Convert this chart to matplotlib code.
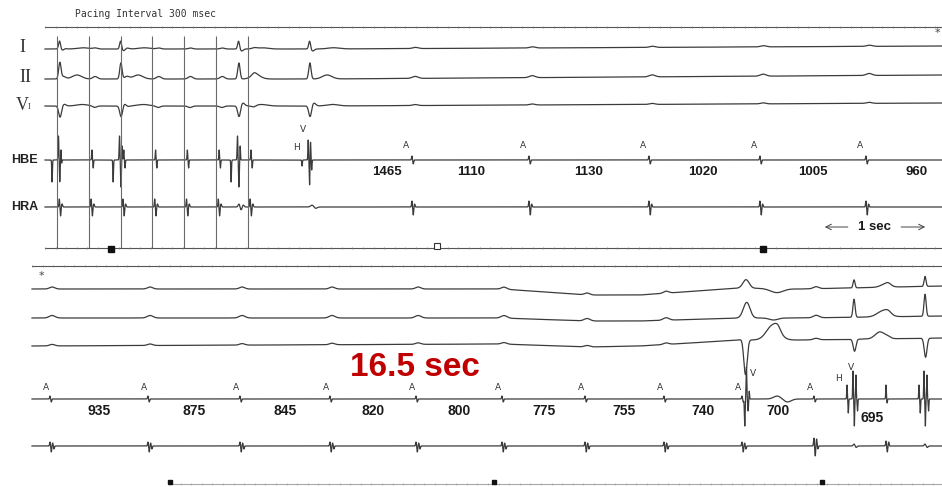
import numpy as np
import matplotlib.pyplot as plt

# ---- values read off the tracing, times in msec ----
# upper strip
stim_times = [113, 413, 713, 1013, 1313, 1613, 1913]   # pacing spikes (300 msec)
paced_v = [132, 708, 1821]                              # captured ventricular beats
his_top = 2425
v_top = 2491
a_top = [3462, 4566, 5698, 6745, 7745]
int_top = [1465, 1110, 1130, 1020, 1005, 960]
marks_top = [623, 3698, 6774]

# lower strip
a_bot = [170, 1094, 1962, 2811, 3623, 4434, 5217, 5962, 6698, 7377, 8057]
int_bot = [935, 875, 845, 820, 800, 775, 755, 740, 700, 695]
v_bot = [6736, 7755, 8425]
his_bot = [7689, 8368]
marks_bot = [1302, 4358, 7453]

# slow baseline wander of the lower surface leads
drift_t = [0, 4434, 5236, 5736, 6679, 7245, 8600]
drift_I = [0, 0, -6, -6, 1, 0, 3]
drift_II = [0, 0, -3, -3, 0, 0, 2]
drift_V1 = [0, 2, -1, 0, 6, 6, 8]

INK = '#3b3b3b'
PX_MS = 0.106   # paper speed, pixels per msec


def bump(t, c, w, a):
    return a * np.exp(-0.5 * ((t - c) / w) ** 2)


def timeline(ax, t0, t1, y, alpha=1.0):
    ax.plot([t0, t1], [y, y], color='#555555', lw=0.8, alpha=alpha)
    ticks = np.arange(t0, t1, 100)
    ax.plot(ticks, np.full(len(ticks), y), ls='none', marker='|', ms=1.4,
            mew=0.5, color='#777777', alpha=alpha)


fig = plt.figure(figsize=(9.42, 4.87), dpi=100)
top = fig.add_axes([0, 1 - 258 / 487, 1, 258 / 487])
top.set_xlim(-45 / PX_MS, (942 - 45) / PX_MS)
top.set_ylim(258, 0)
bot = fig.add_axes([0, 0, 1, 229 / 487])
bot.set_xlim(-32 / PX_MS, (942 - 32) / PX_MS)
bot.set_ylim(487, 258)
for ax in (top, bot):
    ax.axis('off')

# ================= upper strip =================
t = np.arange(0, 8470, 0.5)
beats = paced_v + [v_top]

sI = np.zeros_like(t)
sII = np.zeros_like(t)
sV1 = np.zeros_like(t)
for v in beats:
    sI += bump(t, v + 5, 9, 8) - bump(t, v + 35, 14, 2) + bump(t, v + 230, 55, 1.2)
    sII += bump(t, v + 8, 11, 16) + bump(t, v + 170, 45, 4)
    sV1 += -bump(t, v + 10, 13, 11) + bump(t, v + 45, 18, 3) + bump(t, v + 220, 55, 1.5)
for s in stim_times:
    sI += bump(t, s + 60, 20, 1)
    sII += bump(t, s + 60, 22, 2.5)
    sV1 += -bump(t, s + 55, 20, 1.5)
for a in a_top:
    sI += bump(t, a + 30, 25, 1.2)
    sII += bump(t, a + 30, 28, 2)
    sV1 += bump(t, a + 30, 25, 1)
sI += np.interp(t, [0, 2600, 8470], [0, 0, 3])
sII += np.interp(t, [0, 2600, 8470], [0, 0, 4])
sV1 += np.interp(t, [0, 2600, 8470], [0, 0, 3])

sHBE = np.zeros_like(t)
sHRA = np.zeros_like(t)
for s in stim_times:
    sHBE += bump(t, s + 30, 3, 10) - bump(t, s + 42, 3, 8)
    sHRA += bump(t, s + 22, 3.5, 8) - bump(t, s + 34, 3.5, 9) + bump(t, s + 48, 5, 3)
for v in paced_v:
    sHBE += (-bump(t, v - 65, 3, 22) + bump(t, v - 5, 3.5, 24)
             - bump(t, v + 8, 3.5, 27) + bump(t, v + 20, 3, 14))
sHBE += -bump(t, his_top, 3, 6)
sHBE += (bump(t, v_top - 8, 3, 20) - bump(t, v_top + 5, 3, 25)
         + bump(t, v_top + 14, 3, 18) - bump(t, v_top + 25, 3, 10))
sHRA += bump(t, v_top + 30, 15, 2) - bump(t, v_top + 60, 15, 1.5)
sHRA += bump(t, 1830, 8, 3) - bump(t, 1850, 8, 3) + bump(t, 1870, 8, 2)
for a in a_top:
    sHBE += bump(t, a, 4, 4) - bump(t, a + 12, 4, 4)
    sHRA += bump(t, a, 4, 6) - bump(t, a + 12, 4, 8) + bump(t, a + 25, 4, 3)

for base, sig in [(49, sI), (79, sII), (106, sV1), (160, sHBE), (207, sHRA)]:
    top.plot(t, base - sig, color=INK, lw=0.9)

top.vlines(stim_times, 36, 248, color='#6a6a6a', lw=0.8)
timeline(top, 0, 8470, 27)
timeline(top, 0, 8470, 248)
top.plot(marks_top[0], 249, 's', ms=5, color='#111111')
top.plot(marks_top[2], 249, 's', ms=5, color='#111111')
top.plot(marks_top[1], 246, 's', ms=4, mfc='white', mec='#333333', mew=0.8)

top.text(283, 14, 'Pacing Interval 300 msec', family='DejaVu Sans Mono',
         fontsize=7, color='#333333', va='center')
top.text(8415, 33, '*', fontsize=8, color='#444444', ha='center', va='center')
serif = dict(family='Liberation Serif', fontsize=13, color='#333333', va='center')
top.text(-217, 48, 'I', ha='center', **serif)
top.text(-189, 78, 'II', ha='center', **serif)
top.text(-215, 105, 'V', ha='center', **serif)
top.text(-150, 107, 'I', ha='center', family='Liberation Serif', fontsize=6,
         color='#333333', va='center')
lab = dict(family='Liberation Sans', fontweight='bold', fontsize=9,
           color='#222222', va='center', ha='center')
top.text(-190, 160, 'HBE', **lab)
top.text(-190, 207, 'HRA', **lab)

small = dict(family='DejaVu Sans', fontsize=6.5, color='#333333', ha='center', va='center')
top.text(v_top - 57, 130, 'V', **small)
top.text(his_top - 57, 148, 'H', **small)
for a in a_top:
    top.text(a - 60, 146, 'A', **small)

num = dict(family='Liberation Sans', fontweight='bold', fontsize=9.5,
           color='#1a1a1a', ha='center', va='center')
starts = [v_top] + a_top
for i, iv in enumerate(int_top):
    top.text(starts[i] + iv / 2, 172, str(iv), **num)

# 1 sec scale bar
sb0 = 7330
top.annotate('', xy=(sb0, 227), xytext=(sb0 + 270, 227),
             arrowprops=dict(arrowstyle='->', color='#444444', lw=0.7))
top.annotate('', xy=(sb0 + 1000, 227), xytext=(sb0 + 720, 227),
             arrowprops=dict(arrowstyle='->', color='#444444', lw=0.7))
top.text(sb0 + 495, 227, '1 sec', **num)

# ================= lower strip =================
t = np.arange(0, 8600, 0.5)

bI = np.zeros_like(t)
bII = np.zeros_like(t)
bV1 = np.zeros_like(t)
for a in a_bot:
    bI += bump(t, a + 20, 25, 2)
    bII += bump(t, a + 20, 28, 2.5)
    bV1 += bump(t, a + 20, 25, 1.5)
bI += np.interp(t, drift_t, drift_I)
bII += np.interp(t, drift_t, drift_II)
bV1 += np.interp(t, drift_t, drift_V1)

v1, v2, v3 = v_bot
bI += bump(t, v1 + 5, 28, 7) - bump(t, v1 + 290, 60, 4)
bII += bump(t, v1 + 10, 30, 14) - bump(t, v1 + 260, 40, 2)
bV1 += -bump(t, v1 - 5, 16, 36) + bump(t, v1 + 255, 60, 15) + bump(t, v1 + 300, 25, 4)
bI += bump(t, v2, 9, 8) + bump(t, v2 + 295, 45, 3)
bII += bump(t, v2, 10, 18) + bump(t, v2 + 275, 55, 6)
bV1 += -bump(t, v2 + 5, 13, 12) + bump(t, v2 + 245, 45, 7)
bI += bump(t, v3, 9, 10)
bII += bump(t, v3, 10, 22)
bV1 += -bump(t, v3 + 5, 13, 19)

dHBE = np.zeros_like(t)
dHRA = np.zeros_like(t)
for a in a_bot[:-1]:
    dHBE += bump(t, a, 4, 3) - bump(t, a + 12, 4, 3)
    amp = 8 if a == a_bot[-2] else 4
    dHRA += (bump(t, a, 4, amp) - bump(t, a + 12, 4, amp + 2)
             + bump(t, a + 25, 4, amp - 1) - bump(t, a + 37, 4, 3))
dHBE += bump(t, a_bot[-1], 3, 14) - bump(t, a_bot[-1] + 10, 3, 4)
dHRA += bump(t, a_bot[-1], 4, 5) - bump(t, a_bot[-1] + 12, 4, 6) + bump(t, a_bot[-1] + 25, 4, 4)
dHBE += (-bump(t, v1 - 12, 3.5, 27) + bump(t, v1 + 4, 3.5, 32)
         - bump(t, v1 + 20, 3.5, 12) + bump(t, v1 + 30, 3, 8))
dHBE += bump(t, v1 + 295, 35, 3) - bump(t, v1 + 390, 35, 3)
for h in his_bot:
    dHBE += bump(t, h, 3, 14) - bump(t, h + 12, 3, 14)
for v in v_bot[1:]:
    dHBE += (bump(t, v - 10, 3, 28) - bump(t, v + 3, 3, 27)
             + bump(t, v + 18, 3, 24) - bump(t, v + 33, 3, 12))
    dHRA += bump(t, v, 8, 2) - bump(t, v + 20, 8, 1.5)

for base, sig in [(289, bI), (318, bII), (346, bV1), (399, dHBE), (446, dHRA)]:
    bot.plot(t, base - sig, color=INK, lw=0.9)

timeline(bot, 0, 8600, 266)
timeline(bot, marks_bot[0], 8600, 484, alpha=0.5)
bot.plot(marks_bot, [482, 482, 482], 's', ms=2.5, color='#111111')

bot.text(85, 276, '*', fontsize=8, color='#444444', ha='center', va='center')
bot.text(3613, 367, '16.5 sec', family='Liberation Sans', fontweight='bold',
         fontsize=24, color='#c00000', ha='center', va='center')

for a in a_bot[:-1]:
    bot.text(a - 35, 387, 'A', **small)
bot.text(v1 + 66, 373, 'V', **small)
bot.text(v_bot[1] - 29, 367, 'V', **small)
bot.text(his_bot[0] - 76, 378, 'H', **small)

num_b = dict(num, fontsize=10)
for i, iv in enumerate(int_bot):
    x = (a_bot[i] + a_bot[i + 1]) / 2
    y = 411
    if i == len(int_bot) - 1:
        x += 210
        y = 418
    bot.text(x, y, str(iv), **num_b)

fig.savefig('out.png', dpi=100, facecolor='white')
